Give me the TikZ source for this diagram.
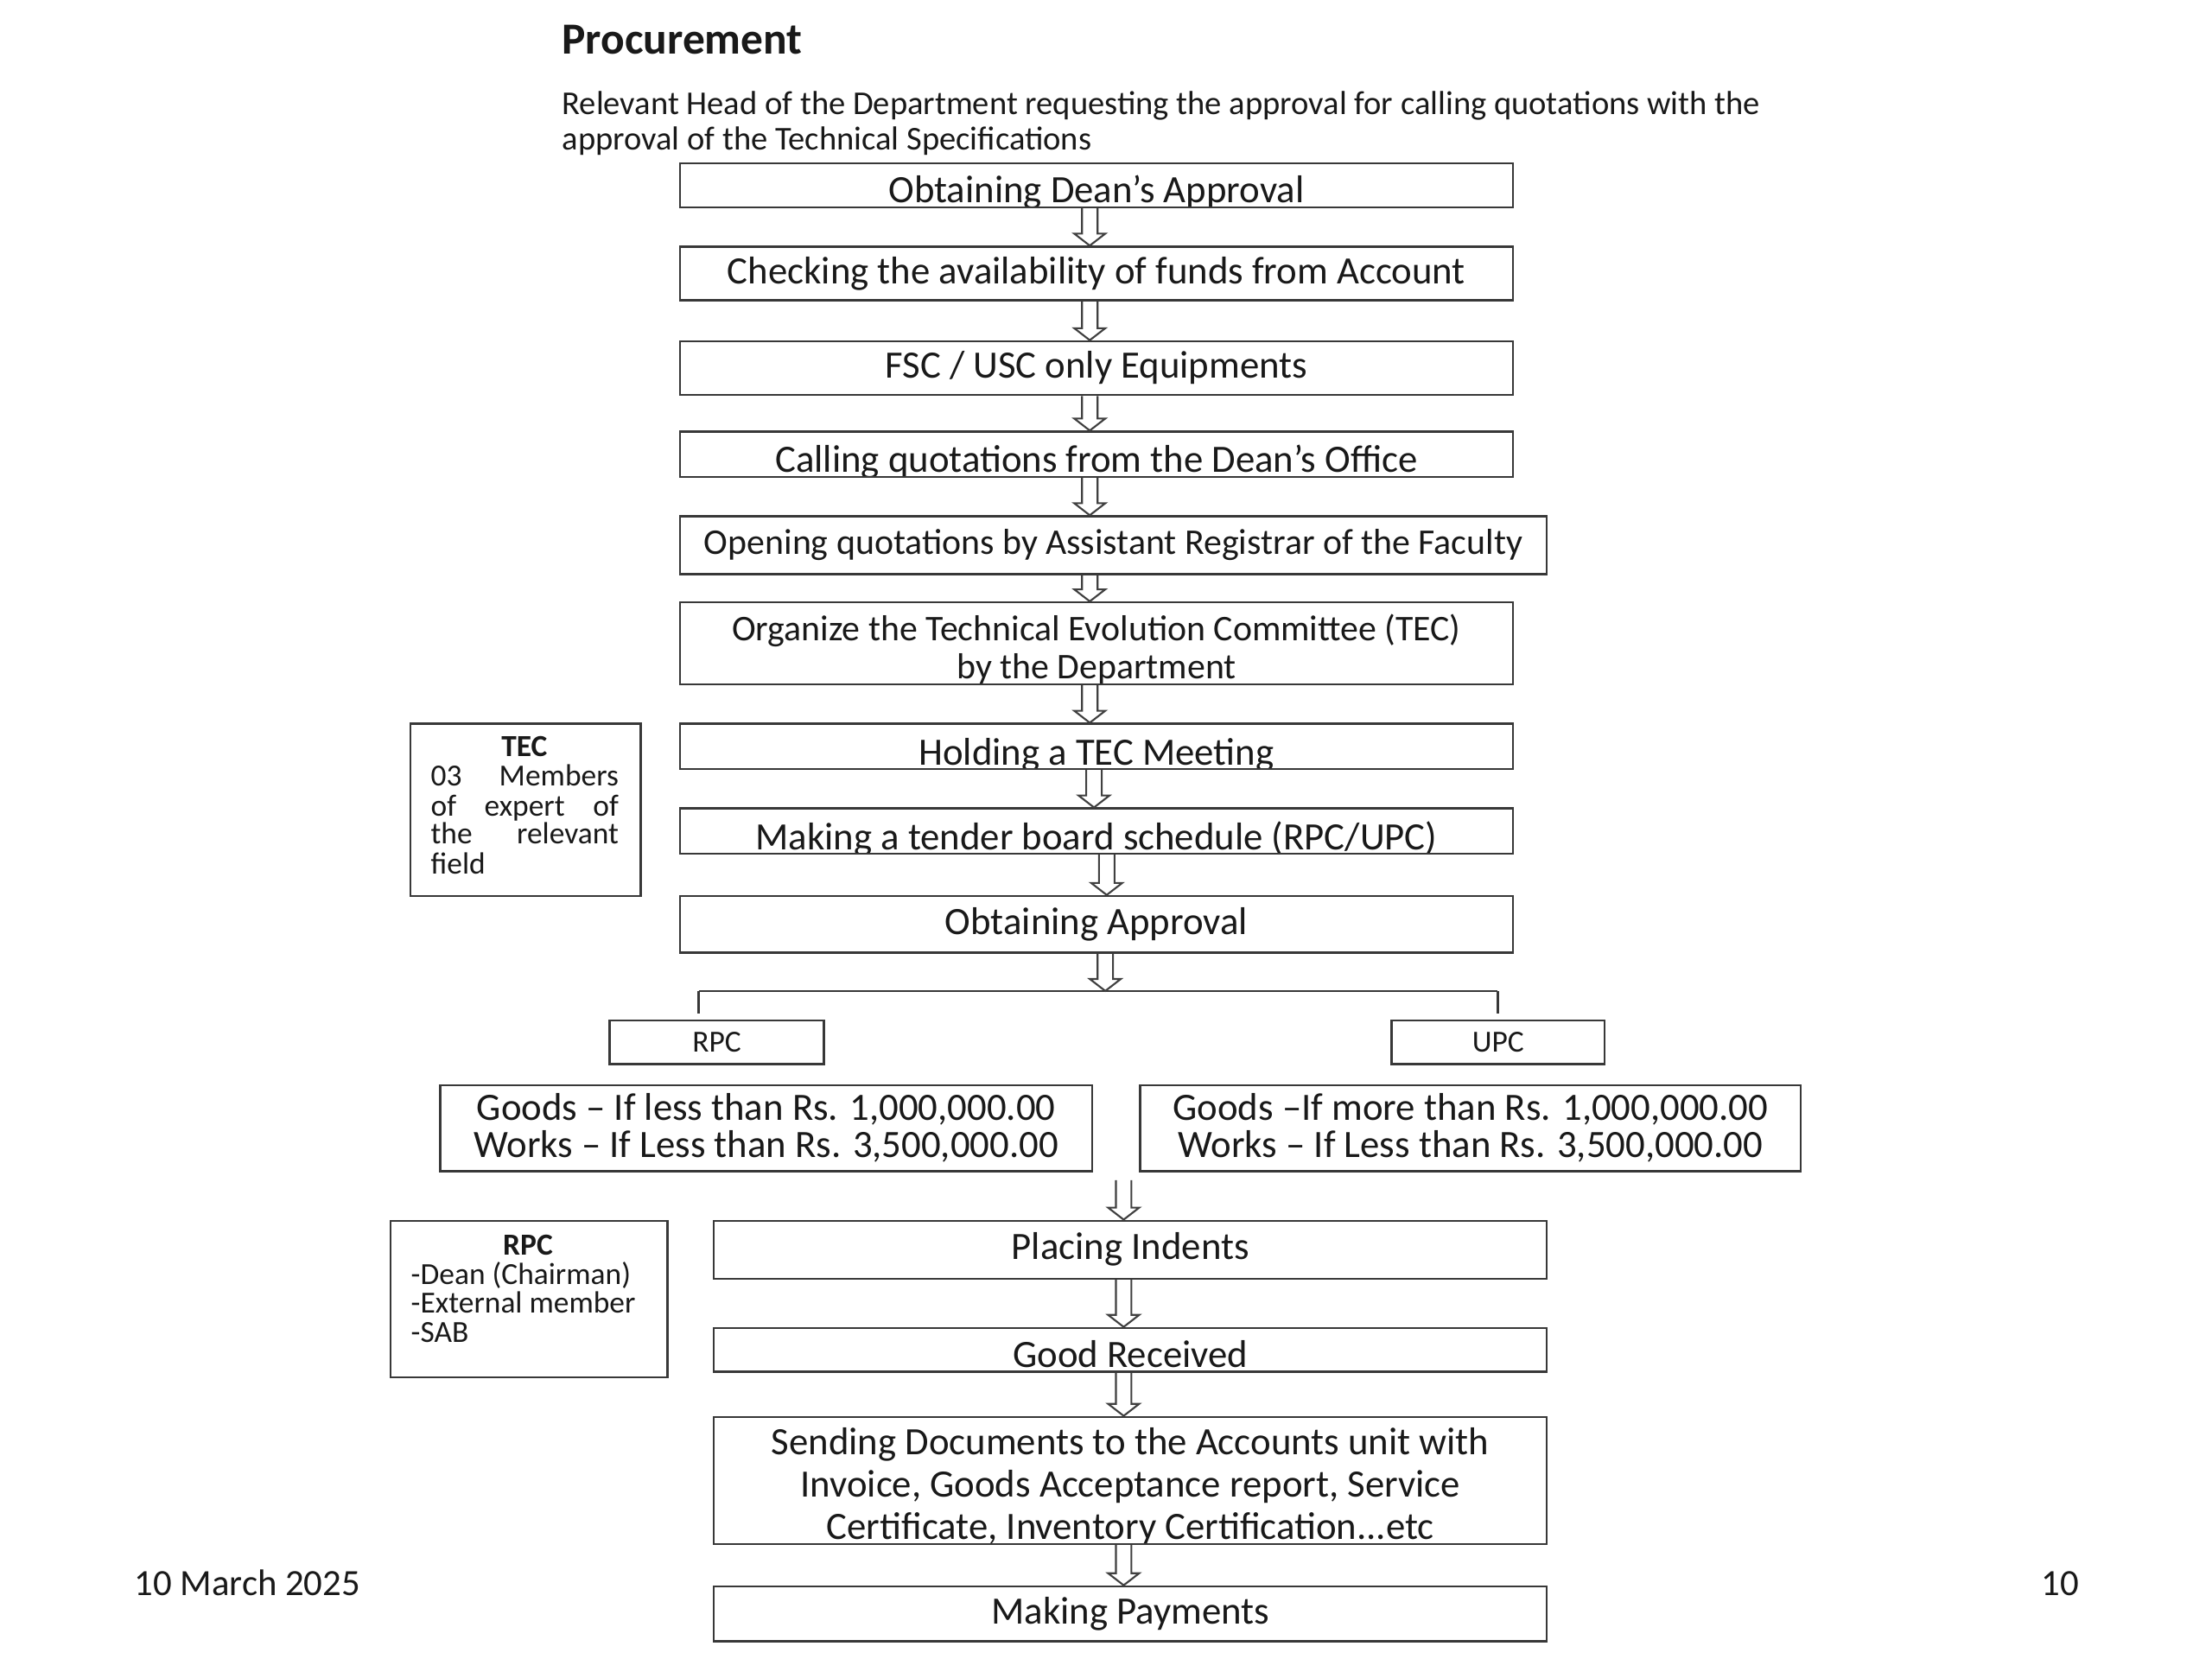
\documentclass[tikz,border=0pt]{standalone}
\usepackage{fontspec}
\setmainfont{Carlito}
\usetikzlibrary{calc}
\newcommand\hollowarrow[3]{%
  \draw[harr] let \p1=#1, \p2=#2 in
  ({#3pt-5.5pt},\y1) -- ({#3pt-5.5pt},{\y2+8.5pt}) -- ({#3pt-11pt},{\y2+8.5pt})
  -- ({#3pt},\y2) -- ({#3pt+11pt},{\y2+8.5pt}) -- ({#3pt+5.5pt},{\y2+8.5pt})
  -- ({#3pt+5.5pt},\y1);}
\begin{document}
\begin{tikzpicture}[x=1pt,y=-1pt,
  bigfont/.style={font=\fontsize{27.4}{27.4}\selectfont},
  midfont/.style={font=\fontsize{25.6}{25.6}\selectfont},
  smallfont/.style={font=\fontsize{21.7}{21.7}\selectfont},
  box/.style={draw=black!78, line width=1.5pt, rectangle, inner sep=0pt,
    anchor=north west, bigfont, align=center, text=black!90},
  ctext/.style={anchor=base, inner sep=0pt, bigfont, text=black!90},
  stext/.style={inner sep=0pt, smallfont, text=black!90},
  harr/.style={draw=black!75, line width=1.3pt, line join=miter},
  link/.style={draw=black!78, line width=1.5pt}]
\fill[white] (0,0) rectangle (1567,1175.25);
\useasboundingbox (0,0) rectangle (1567,1175.25);

% heading
\node[anchor=base west, inner sep=0pt, font=\bfseries\fontsize{31.5}{31.5}\selectfont, text=black!90] (title) at (398,38) {Procurement};
\node[anchor=base west, inner sep=0pt, font=\fontsize{23.6}{23.6}\selectfont, text=black!90] (sub1) at (398,81) {Relevant Head of the Department requesting the approval for calling quotations with the};
\node[anchor=base west, inner sep=0pt, font=\fontsize{23.6}{23.6}\selectfont, text=black!90] (sub2) at (398,106) {approval of the Technical Specifications};

% main column
\node[box, minimum width=590pt, minimum height=31pt,
  path picture={\node[ctext] at ([yshift=3pt]path picture bounding box.south) {Obtaining Dean’s Approval};}] (b1) at (481,115) {};
\node[box, minimum width=590pt, minimum height=38pt] (b2) at (481,174) {Checking the availability of funds from Account};
\node[box, minimum width=590pt, minimum height=38pt] (b3) at (481,241) {FSC / USC only Equipments};
\node[box, minimum width=590pt, minimum height=32pt,
  path picture={\node[ctext] at ([yshift=3pt]path picture bounding box.south) {Calling quotations from the Dean’s Office};}] (b4) at (481,305) {};
\node[box, midfont, minimum width=614pt, minimum height=41pt] (b5) at (481,365) {Opening quotations by Assistant Registrar of the Faculty};
\node[box, minimum width=590pt, minimum height=58pt,
  path picture={\node[ctext, midfont] at ([yshift=31pt]path picture bounding box.south) {Organize the Technical Evolution Committee (TEC)};
    \node[ctext, midfont] at ([yshift=4pt]path picture bounding box.south) {by the Department};}] (b6) at (481,426) {};
\node[box, minimum width=590pt, minimum height=32pt,
  path picture={\node[ctext] at ([yshift=3pt]path picture bounding box.south) {Holding a TEC Meeting};}] (b7) at (481,512) {};
\node[box, minimum width=590pt, minimum height=32pt,
  path picture={\node[ctext] at ([yshift=3pt]path picture bounding box.south) {Making a tender board schedule (RPC/UPC)};}] (b8) at (481,572) {};
\node[box, minimum width=590pt, minimum height=40pt] (b9) at (481,634) {Obtaining Approval};

% TEC side box
\node[box, minimum width=163pt, minimum height=122pt] (tec) at (290,512) {};
\node[stext, anchor=base, font=\bfseries\fontsize{21.7}{21.7}\selectfont] (tecA) at (371.5,536) {TEC};
\node[stext, anchor=base west] (tecB) at (305,557) {\hbox to 133pt{03\hfill Members}};
\node[stext, anchor=base west] (tecC) at (305,578) {\hbox to 133pt{of\hfill expert\hfill of}};
\node[stext, anchor=base west] (tecD) at (305,598) {\hbox to 133pt{the\hfill relevant}};
\node[stext, anchor=base west] (tecE) at (305,619) {field};

% branch
\coordinate (brC) at (783,702);
\coordinate (brL) at (495,702);
\coordinate (brR) at (1061,702);
\node[box, minimum width=152pt, minimum height=31pt, smallfont] (rpc) at (431,722) {RPC};
\node[box, minimum width=151pt, minimum height=31pt, smallfont] (upc) at (985,722) {UPC};
\draw[link] (brL) -- (brR);
\draw[link, shorten >=4pt] (brL) -- (brL |- rpc.north);
\draw[link, shorten >=4pt] (brR) -- (brR |- upc.north);

\node[box, minimum width=462pt, minimum height=61pt] (gl) at (311,768) {\rule{0pt}{4pt}Goods – If less than Rs. 1,000,000.00\\[-1pt]Works – If Less than Rs. 3,500,000.00};
\node[box, minimum width=468pt, minimum height=61pt] (gr) at (807,768) {\rule{0pt}{4pt}Goods –If more than Rs. 1,000,000.00\\[-1pt]Works – If Less than Rs. 3,500,000.00};
\coordinate (gsplit) at (796,836);

% lower column
\node[box, minimum width=590pt, minimum height=41pt] (pi) at (505,864) {Placing Indents};
\node[box, minimum width=590pt, minimum height=31pt,
  path picture={\node[ctext] at ([yshift=3pt]path picture bounding box.south) {Good Received};}] (gd) at (505,940) {};
\node[box, minimum width=590pt, minimum height=90pt,
  path picture={\node[ctext] at ([yshift=63pt]path picture bounding box.south) {Sending Documents to the Accounts unit with};
    \node[ctext] at ([yshift=33pt]path picture bounding box.south) {Invoice, Goods Acceptance report, Service};
    \node[ctext] at ([yshift=3pt]path picture bounding box.south) {Certificate, Inventory Certification...etc};}] (sd) at (505,1003) {};
\node[box, minimum width=590pt, minimum height=39pt] (mp) at (505,1123) {Making Payments};

% RPC side box
\node[box, minimum width=196pt, minimum height=111pt] (rpcbox) at (276,864) {};
\node[stext, anchor=base, font=\bfseries\fontsize{21.7}{21.7}\selectfont] (rpcA) at (374,889) {RPC};
\node[stext, anchor=base west] (rpcB) at (291,910) {-Dean (Chairman)};
\node[stext, anchor=base west] (rpcC) at (291,930) {-External member};
\node[stext, anchor=base west] (rpcD) at (291,951) {-SAB};

% arrows
\hollowarrow{(b1.south)}{(b2.north)}{772}
\hollowarrow{(b2.south)}{(b3.north)}{772}
\hollowarrow{(b3.south)}{(b4.north)}{772}
\hollowarrow{(b4.south)}{(b5.north)}{772}
\hollowarrow{(b5.south)}{(b6.north)}{772}
\hollowarrow{(b6.south)}{(b7.north)}{772}
\hollowarrow{(b7.south)}{(b8.north)}{775}
\hollowarrow{(b8.south)}{(b9.north)}{784}
\hollowarrow{(b9.south)}{(brC)}{783}
\hollowarrow{(gsplit)}{(pi.north)}{796}
\hollowarrow{(pi.south)}{(gd.north)}{796}
\hollowarrow{(gd.south)}{(sd.north)}{796}
\hollowarrow{(sd.south)}{(mp.north)}{796}

% footer
\node[anchor=base west, inner sep=0pt, font=\fontsize{26.2}{26.2}\selectfont, text=black!90] (date) at (95,1130) {10 March 2025};
\node[anchor=base east, inner sep=0pt, font=\fontsize{26.2}{26.2}\selectfont, text=black!90] (page) at (1473,1130) {10};
\end{tikzpicture}
\end{document}
